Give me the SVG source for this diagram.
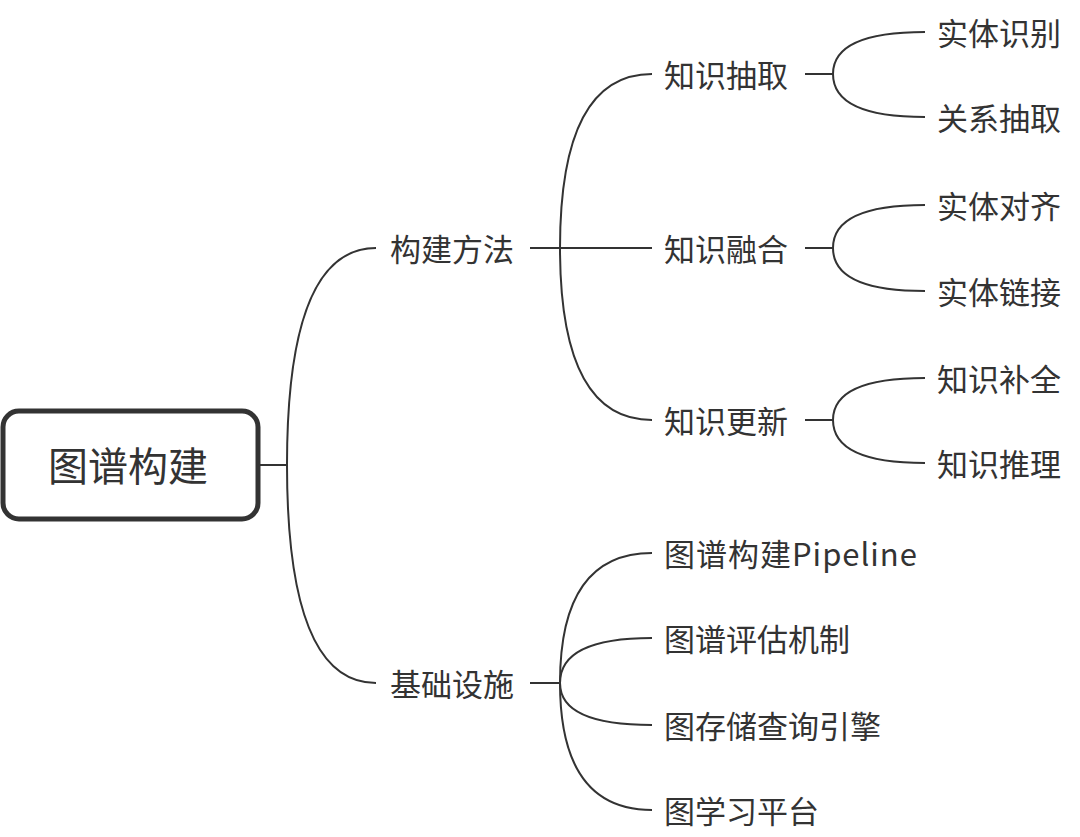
<svg xmlns="http://www.w3.org/2000/svg" width="1080" height="837" viewBox="0 0 1080 837">
<style>
.t{font-family:"Noto Sans CJK SC","Noto Sans",sans-serif;fill:#333;font-size:31px;dominant-baseline:central}
.r{font-size:40px;text-anchor:middle}
.c path{fill:none;stroke:#333;stroke-width:2}
</style>
<rect width="1080" height="837" fill="#fff"/>
<g id="connectors" class="c">
<path d="M258 465 H287"/>
<path d="M287 465 Q287 248 376 248"/>
<path d="M287 465 Q287 683 376 683"/>
<path d="M530 248 H652"/>
<path d="M560 248 Q560 74 652 74"/>
<path d="M560 248 Q560 420 652 420"/>
<path d="M530 683 H560"/>
<path d="M560 683 Q560 553 652 553"/>
<path d="M560 683 Q560 638 652 638"/>
<path d="M560 683 Q560 725 652 725"/>
<path d="M560 683 Q560 810 652 810"/>
<path d="M805 74 H833"/>
<path d="M833 74 Q833 32 925 32"/>
<path d="M833 74 Q833 117 925 117"/>
<path d="M805 248 H833"/>
<path d="M833 248 Q833 205 925 205"/>
<path d="M833 248 Q833 291 925 291"/>
<path d="M805 420 H833"/>
<path d="M833 420 Q833 378 925 378"/>
<path d="M833 420 Q833 463 925 463"/>
</g>
<g id="root"><rect x="3" y="411" width="255" height="108" rx="16" fill="#fff" stroke="#333" stroke-width="5"/><text class="t r" x="128" y="464">图谱构建</text></g>
<g id="n-method"><text class="t" x="390" y="247">构建方法</text></g>
<g id="n-infra"><text class="t" x="390" y="682">基础设施</text></g>
<g id="n-extract"><text class="t" x="664" y="73">知识抽取</text></g>
<g id="n-fusion"><text class="t" x="664" y="247">知识融合</text></g>
<g id="n-update"><text class="t" x="664" y="419">知识更新</text></g>
<g id="n-e1"><text class="t" x="937" y="31">实体识别</text></g>
<g id="n-e2"><text class="t" x="937" y="116">关系抽取</text></g>
<g id="n-f1"><text class="t" x="937" y="204">实体对齐</text></g>
<g id="n-f2"><text class="t" x="937" y="290">实体链接</text></g>
<g id="n-u1"><text class="t" x="937" y="377">知识补全</text></g>
<g id="n-u2"><text class="t" x="937" y="462">知识推理</text></g>
<g id="n-i1"><text class="t" x="664" y="552" letter-spacing="1">图谱构建Pipeline</text></g>
<g id="n-i2"><text class="t" x="664" y="637">图谱评估机制</text></g>
<g id="n-i3"><text class="t" x="664" y="724">图存储查询引擎</text></g>
<g id="n-i4"><text class="t" x="664" y="809">图学习平台</text></g>
</svg>
